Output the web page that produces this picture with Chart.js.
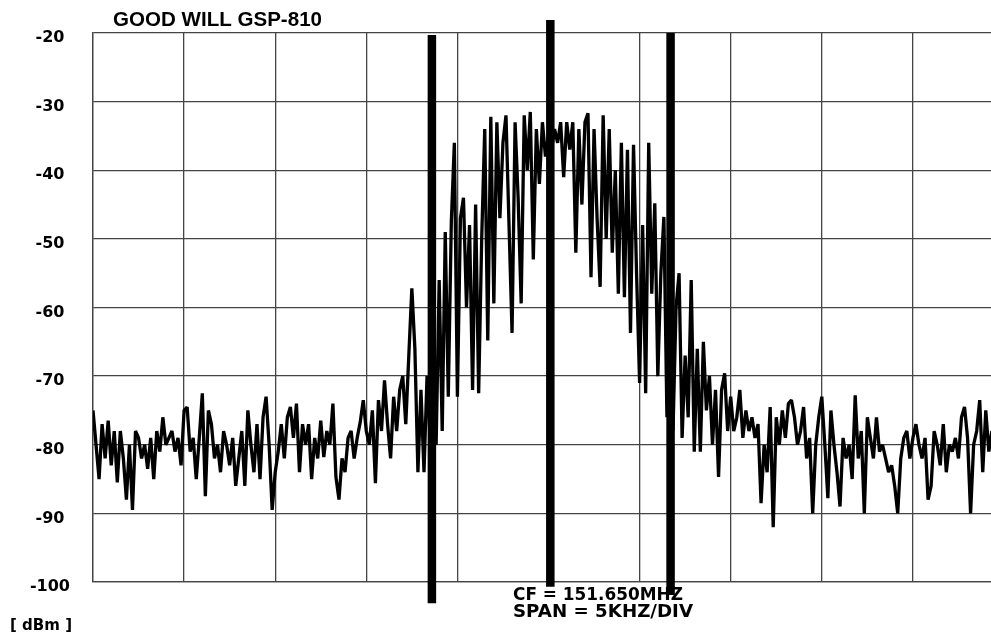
<!DOCTYPE html>
<html>
<head>
<meta charset="utf-8">
<title>GOOD WILL GSP-810</title>
<script src="https://cdn.jsdelivr.net/npm/chart.js@4.4.0/dist/chart.umd.min.js"></script>
<style>
  html, body { margin: 0; padding: 0; background: #fff; overflow: hidden; }
  canvas { display: block; }
</style>
</head>
<body>
<canvas id="specChart" width="1010" height="632"></canvas>
<script>
const titleText = 'GOOD WILL GSP-810';
const noteLines = ['CF = 151.650MHZ', 'SPAN = 5KHZ/DIV'];
const unitText = '[ dBm ]';

// frequency offset from CF in kHz, 10 divisions of 5 kHz
const freqStart = -25;
const freqEnd = 25;
const levelTicks = [-20, -30, -40, -50, -60, -70, -80, -90, -100];

// the three thick marker bars
const markerFreqs = [-6.4, 0.1, 6.7];
const markerTops = [-20.3, -18.1, -20];
const markerBottoms = [-103.1, -100.7, -101.9];

// sweep levels in dBm left to right
const traceLevels = [
  -75, -80, -85, -77, -82, -76.5, -83, -78, -85.5, -78, -82, -88, -80, -89.5, -78, -79, -82, -80, -83.5, -79, -85, -78, -81, -76, -80, -79, -78, -81, -79, -83,
  -75, -74.5, -81, -79, -85, -79, -72.5, -87.5, -75, -77, -82, -80, -84, -78, -80, -83, -79, -86, -82, -78, -86, -75, -80, -84, -77, -85, -76, -73, -80, -89.5,
  -84, -81, -77, -82, -76, -74.5, -79, -74, -84, -77, -80, -77, -85, -79, -82, -76.5, -81.8, -78, -80, -74, -84.7, -88, -82, -84, -79, -78, -82, -79, -76.7, -73.5,
  -78, -80, -75, -85.6, -73.5, -78, -70.6, -77, -82, -73, -78, -72, -70, -77, -67, -57.2, -66, -84, -72, -84, -70, -79, -75, -80, -56, -78, -49, -73, -47.5, -36,
  -73, -47, -44, -60, -48, -72, -45, -72.5, -50, -34, -64.8, -32.2, -59.4, -33, -47, -36, -32, -48, -63.7, -33, -44, -59.4, -32, -40, -31.5, -53, -34, -42, -33, -38,
  -35, -37, -34, -36, -33, -41, -33, -37, -33, -52, -34, -45, -33, -31.7, -55.6, -34, -47, -57, -32, -50, -34, -52, -40, -58, -36, -58.5, -37, -63.7, -36.3, -55,
  -71, -48, -72.5, -36, -58, -44.8, -70, -55, -46.8, -76, -62, -78, -60, -55, -79, -67, -76, -56, -81, -66, -81, -65, -75, -70, -80, -72, -84.7, -72, -69.6, -78,
  -73, -78, -76, -72, -79, -75, -78, -76, -79, -77, -88.5, -80, -84, -74.5, -92, -76, -80, -75, -79, -74, -73.5, -76, -80, -78, -74.5, -82, -79, -90, -80, -76,
  -73, -80, -87.8, -75, -80, -84, -89, -79, -82, -80, -85, -72.8, -82, -78, -90, -76, -79, -82, -76, -81, -80, -82, -84, -83, -86, -90, -82, -79, -78, -82,
  -79, -77, -80, -82, -79, -88, -86, -78, -80, -83, -77, -84, -80, -81, -79, -82, -76, -74.5, -79, -90, -80, -78, -73.5, -84, -75, -81, -78, -83, -80, -77, -82
];

const freqStep = (freqEnd - freqStart) / (traceLevels.length - 1);
const tracePoints = traceLevels.map((v, i) => ({ x: freqStart + i * freqStep, y: v }));

const markerSets = markerFreqs.map((f, k) => ({
  data: [{ x: f, y: markerBottoms[k] }, { x: f, y: markerTops[k] }],
  borderColor: '#000',
  borderWidth: 8.5,
  borderCapStyle: 'butt',
  pointRadius: 0,
  clip: false,
  order: 0
}));

// draw a text squeezed/stretched to a given width
function drawFitted(c, text, x, y, width, font) {
  c.save();
  c.font = font;
  c.fillStyle = '#000';
  c.textBaseline = 'alphabetic';
  c.textAlign = 'left';
  const w = c.measureText(text).width;
  c.translate(x, y);
  c.scale(width / w, 1);
  c.fillText(text, 0, 0);
  c.restore();
}

const notesPlugin = {
  id: 'notes',
  afterDraw(chart) {
    const c = chart.ctx;
    drawFitted(c, titleText, 113, 26, 209, 'bold 20px "Liberation Sans"');
    drawFitted(c, noteLines[0], 513, 600, 170, 'bold 17px "DejaVu Sans"');
    drawFitted(c, noteLines[1], 513, 617, 180, 'bold 17px "DejaVu Sans"');
    drawFitted(c, unitText, 10, 630, 62, 'bold 15px "DejaVu Sans"');
  }
};

const gridLook = { color: '#444', lineWidth: 1.3, drawTicks: false };

const config = {
  type: 'line',
  data: {
    datasets: [
      ...markerSets,
      {
        data: tracePoints,
        borderColor: '#000',
        borderWidth: 3.3,
        borderJoinStyle: 'bevel',
        pointRadius: 0,
        tension: 0,
        order: 1
      }
    ]
  },
  options: {
    responsive: false,
    animation: false,
    layout: { padding: { top: 33, right: 6, bottom: 0, left: 0 } },
    plugins: { legend: { display: false }, tooltip: { enabled: false } },
    scales: {
      x: {
        type: 'linear',
        min: freqStart,
        max: freqEnd,
        ticks: { display: false, stepSize: 5 },
        grid: gridLook,
        border: { display: true, color: '#444', width: 1.3 },
        afterFit: s => { s.height = 50; }
      },
      y: {
        min: -100,
        max: -20,
        afterBuildTicks: s => { s.ticks = levelTicks.map(v => ({ value: v })); },
        ticks: {
          padding: 23,
          labelOffset: 5,
          crossAlign: 'center',
          color: '#000',
          font: { family: 'DejaVu Sans', weight: 'bold', size: 16 }
        },
        grid: gridLook,
        border: { display: true, color: '#444', width: 1.3 },
        afterFit: s => { s.width = 93; }
      }
    }
  },
  plugins: [notesPlugin]
};

document.addEventListener('DOMContentLoaded', () => {
  const ctx = document.getElementById('specChart').getContext('2d');
  new Chart(ctx, config);
});
</script>
</body>
</html>
